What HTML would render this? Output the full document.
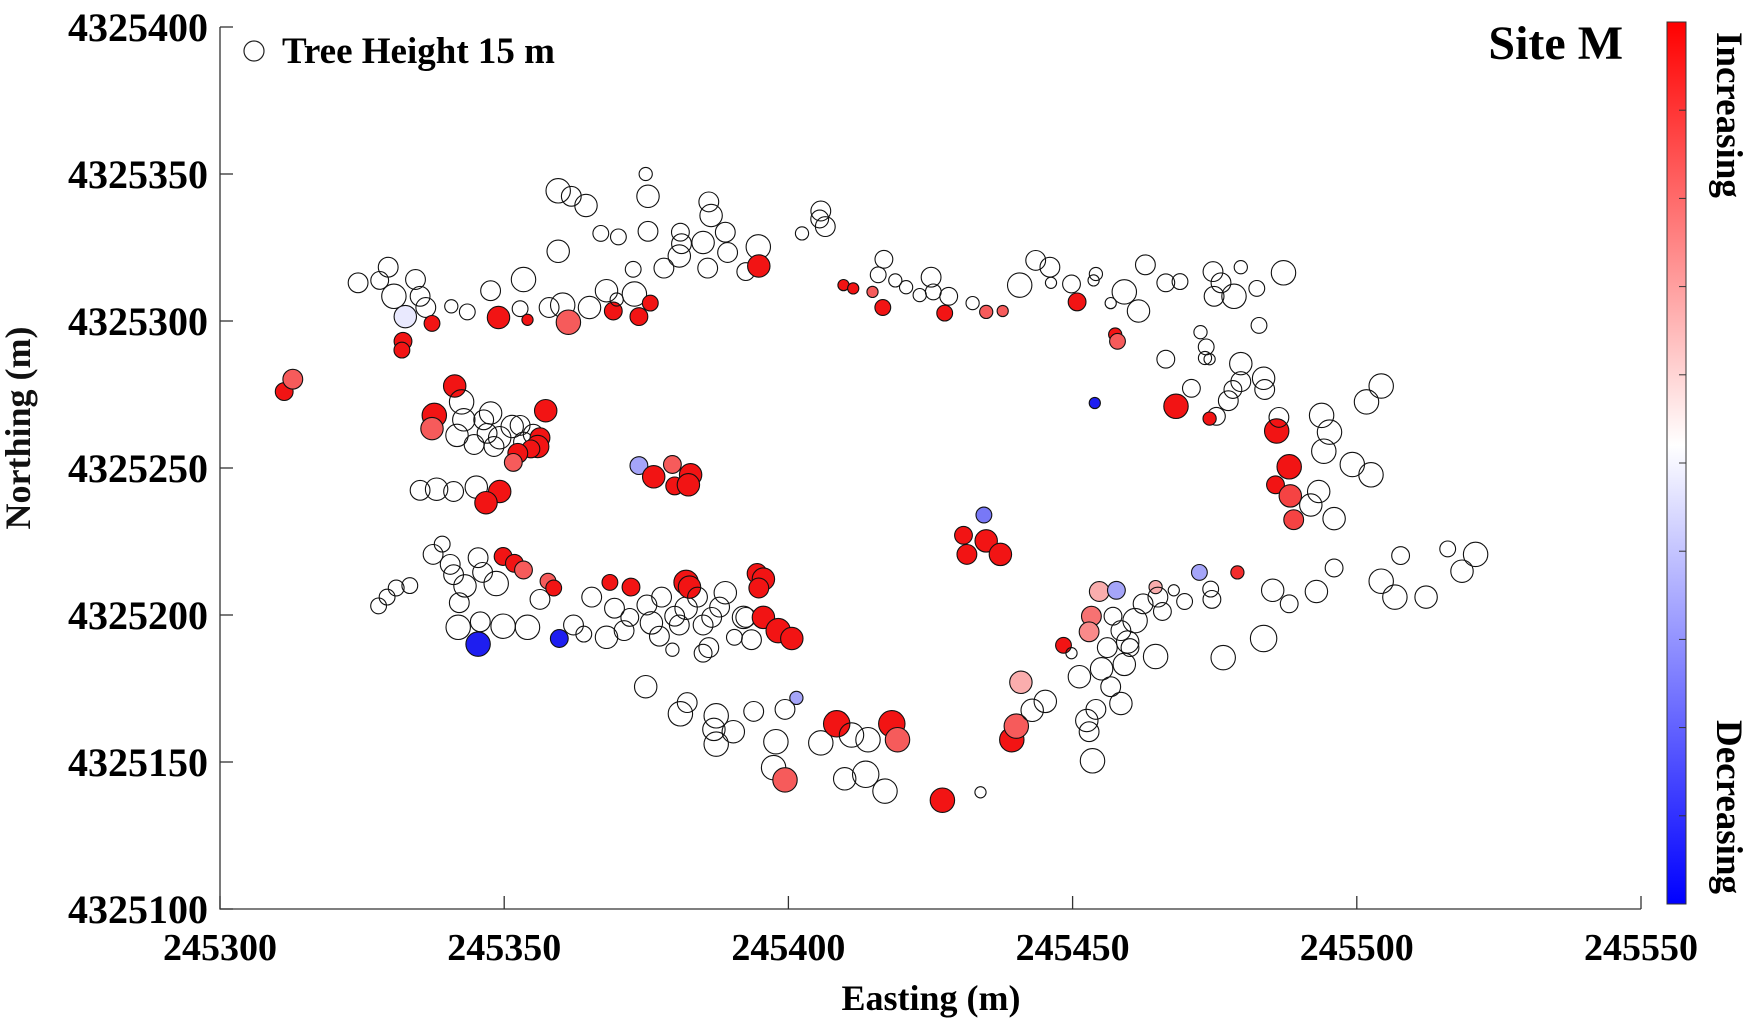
<!DOCTYPE html>
<html><head><meta charset="utf-8"><style>
html,body{margin:0;padding:0;background:#fff;}
svg{display:block;font-family:"Liberation Serif",serif;font-weight:bold;}
</style></head><body>
<svg id="chart" width="1763" height="1036" viewBox="0 0 1763 1036">
  <g id="axes"></g>
  <g id="marks"></g>
  <g id="legend">
    <circle cx="254" cy="51" r="10" fill="none" stroke="#222" stroke-width="1.2"/>
    <text x="282" y="63" font-size="37">Tree Height 15 m</text>
  </g>
  <text x="1623" y="59" font-size="48" text-anchor="end">Site M</text>
  <text transform="translate(30,428) rotate(-90)" font-size="36" text-anchor="middle" fill="#111">Northing (m)</text>
  <text x="931" y="1010" font-size="36" text-anchor="middle">Easting (m)</text>
  <defs>
    <linearGradient id="cbgrad" x1="0" y1="0" x2="0" y2="1">
      <stop offset="0" stop-color="#ff0000"/>
      <stop offset="0.48" stop-color="#ffffff"/>
      <stop offset="1" stop-color="#0000ff"/>
    </linearGradient>
  </defs>
  <g id="colorbar">
    <rect x="1667" y="22" width="19" height="882" fill="url(#cbgrad)" stroke="#333" stroke-width="1"/>
    <g id="cbticks"></g>
    <text transform="translate(1717,32) rotate(90)" font-size="37">Increasing</text>
    <text transform="translate(1717,720) rotate(90)" font-size="37">Decreasing</text>
  </g>
</svg>
<script>
// easting offset from 245300 (m)
const eastM = [
24.3,29.6,28.1,30.6,34.4,35.2,36.2,32.6,37.3,32.2,32.0,40.7,43.5,47.6,49.0,53.4,52.8,54.1,57.9,60.3,61.3,65.0,68.0,69.2,69.8,72.9,73.7,75.7,72.7,75.3,67.0,70.1,74.9,75.3,59.5,61.8,64.4,59.5,78.1,80.8,81.2,81.0,85.0,85.8,86.0,86.4,88.9,89.3,94.7,92.5,94.8,102.4,105.7,106.5,105.5,
109.7,111.4,114.8,115.8,116.8,116.6,118.8,120.7,123.1,125.1,125.5,128.2,127.5,132.4,134.8,137.7,140.7,143.5,146.0,146.2,150.8,149.8,154.1,153.7,156.7,159.1,161.6,162.8,166.4,168.9,174.7,174.9,176.1,178.4,179.6,182.4,187.1,182.8,157.5,157.9,172.5,173.5,173.3,174.1,166.4,170.9,179.6,179.6,177.4,178.2,175.3,183.6,183.8,168.2,174.1,153.9,
11.3,12.8,41.3,37.7,37.3,42.5,42.9,41.7,46.4,47.6,47.0,48.2,49.2,51.4,52.8,53.4,55.1,57.3,56.3,55.9,54.7,52.4,51.6,44.7,35.2,38.1,41.1,45.1,49.2,46.8,73.7,76.3,79.6,82.8,80.0,82.4,
134.4,130.8,131.4,134.8,137.3,
37.5,39.1,40.5,41.1,45.4,46.2,43.1,48.6,49.8,51.8,53.4,57.7,58.7,56.3,27.9,29.4,31.0,33.4,42.1,41.9,45.8,49.8,54.1,45.4,59.7,62.2,64.0,65.4,68.6,72.3,69.4,68.0,71.1,72.1,75.1,75.9,77.3,77.7,80.0,80.8,79.6,82.0,82.0,82.6,85.0,84.0,87.9,86.5,88.9,90.5,92.1,93.5,92.5,94.5,95.6,94.8,95.6,98.2,100.6,85.0,86.0,74.9,
101.4,99.4,81.0,82.2,87.3,86.9,87.3,90.3,93.9,97.8,97.4,99.4,105.7,108.5,109.9,111.1,114.0,113.6,117.0,118.2,119.2,127.1,133.8,139.3,140.1,140.9,142.9,145.2,148.4,149.8,151.2,154.7,157.7,153.3,152.9,152.5,152.9,153.5,154.1,155.1,156.7,158.5,159.1,156.1,158.5,157.1,159.7,161.0,162.4,164.6,165.0,165.8,164.6,167.8,169.7,172.3,174.3,174.5,176.5,179.0,183.6,185.2,188.1,192.9,196.0,204.3,206.7,207.7,212.2,216.0,218.5,220.9,160.1,
185.9,186.3,188.1,185.7,188.3,188.9,191.9,193.3,196.0,193.8,195.2,194.2,199.2,202.5,201.7,204.3
];
// northing offset from 4325100 (m)
const northM = [
213.0,218.3,213.8,208.4,214.1,208.4,204.6,201.5,199.2,193.1,190.1,205.0,203.1,210.3,201.2,214.1,204.2,200.4,204.6,205.4,199.6,204.6,210.3,203.4,207.3,209.2,201.5,206.1,217.6,230.5,229.8,228.6,250.0,242.4,244.3,242.4,239.3,223.7,218.0,222.1,226.3,230.2,226.7,218.0,240.5,235.9,230.2,223.3,225.2,216.8,218.7,229.8,237.4,232.1,234.7,
212.2,211.1,209.9,215.7,221.0,204.6,213.8,211.5,208.8,214.9,209.9,208.4,202.7,206.1,203.1,203.4,212.2,220.6,218.3,213.0,206.5,212.6,216.0,213.8,206.1,209.9,203.4,219.1,213.0,213.4,216.8,208.4,213.0,208.4,218.3,211.1,216.4,198.5,195.4,193.1,196.2,191.2,187.4,187.0,187.0,177.1,185.5,179.4,172.9,176.7,167.6,180.5,176.7,171.0,166.8,172.1,
176.0,180.2,177.9,167.9,163.4,172.5,166.4,161.1,166.4,168.7,161.8,157.3,160.3,164.1,164.5,158.8,161.5,169.5,160.3,157.3,156.5,155.0,151.9,158.0,142.4,142.8,142.0,143.5,142.0,138.2,150.8,147.0,151.2,147.7,143.9,144.3,
134.0,127.1,120.6,125.2,120.6,
120.6,124.1,117.2,113.7,119.5,114.5,109.9,110.7,119.9,117.6,115.3,111.5,109.2,105.3,103.1,106.1,109.2,110.0,104.2,95.8,97.7,96.2,95.8,90.1,92.0,96.6,93.5,106.1,111.1,109.5,102.3,92.4,94.7,99.2,103.4,97.3,92.8,106.1,99.6,96.6,88.2,102.3,111.1,109.5,96.6,106.1,102.7,99.2,107.6,92.4,99.2,91.6,99.2,114.1,112.2,109.2,99.2,94.7,92.0,87.0,88.9,75.6,
71.8,67.9,66.4,70.2,65.7,61.1,56.1,60.3,67.2,56.9,48.1,43.9,56.5,63.0,44.3,59.2,57.6,45.8,40.1,63.0,57.6,37.0,39.7,57.6,62.2,77.1,67.6,70.6,89.7,87.0,79.0,108.0,108.4,99.6,94.3,64.1,60.3,50.4,67.9,81.7,75.6,69.9,83.2,88.9,94.7,99.6,90.8,98.1,103.8,109.5,106.1,101.2,85.9,108.4,104.6,114.5,108.8,105.3,85.5,114.5,92.0,108.4,103.8,108.0,116.0,111.5,106.1,120.2,106.1,122.5,114.9,120.6,88.9,
162.6,167.2,150.4,144.3,140.5,132.4,137.4,142.0,132.8,167.9,162.2,155.7,151.2,147.7,172.5,177.9
];
// tree height (m)
const heightM = [
15,15,13.5,18.5,15,15,15,17,12,13.5,12,10,12,15,17,18.5,12,8.5,15,18.5,18.5,17,17,13.5,10,18.5,13.5,12,12,15,12,12,10,17,18.5,15,17,17,15,17,15,13.5,17,15,15,17,15,15,18.5,13.5,17,10,15,15,13.5,
8.5,8.5,8.5,12,13.5,12,10,10,10,15,12,13.5,12,10,10,8.5,18.5,15,15,8.5,13.5,13.5,10,8.5,8.5,18.5,17,15,13.5,12,15,15,15,18.5,10,12,18.5,12,10,12,10,12,10,8.5,13.5,13.5,17,15,15,13.5,13.5,17,15,18.5,10,8.5,
13.5,15,17,18.5,17,18.5,17,17,15,17,15,15,17,17,15,15,15,17,15,17,13.5,15,13.5,15,15,17,15,17,17,17,13.5,17,13.5,17,13.5,17,
12,13.5,15,17,17,
15,12,15,15,15,15,17,18.5,13.5,13.5,13.5,12,12,15,12,12,12,12,15,18.5,15,18.5,18.5,18.5,13.5,15,12,15,12,13.5,15,17,15,13.5,15,17,15,15,15,15,10,17,18.5,17,15,15,15,15,17,12,17,15,15,15,17,15,17,18.5,17,13.5,15,17,
10,15,18.5,15,18.5,17,18.5,17,15,18.5,18.5,18.5,18.5,20,17,18.5,18.5,20,18.5,20,18.5,18.5,8.5,18.5,18.5,17,17,17,12,8.5,17,15,13.5,15,15,17,15,18.5,15,17,15,17,17,15,15,13.5,17,18.5,15,10,15,13.5,18.5,8.5,12,12,12,13.5,18.5,10,20,17,13.5,17,13.5,18.5,18.5,13.5,17,12,17,18.5,13.5,
18.5,15,18.5,13.5,17,15,17,17,17,18.5,18.5,18.5,18.5,18.5,18.5,18.5
];
// relative change (-1 decreasing .. 1 increasing, 0 = no change / open)
const changeVal = [
0,0,0,0,0,0,0,-0.1,1,1,1,0,0,0,1,0,0,1,0,0,0.7,0,0,1,0,0,1,1,0,0,0,0,0,0,0,0,0,0,0,0,0,0,0,0,0,0,0,0,0,0,1,0,0,0,0,
1,1,0.7,0,0,1,0,0,0,0,0,0,1,0,0.7,0.7,0,0,0,0,1,0,0,0,0,0,0,0,0,0,0,0,0,0,0,0,0,0,1,0.7,0,0,0,0,0,0,0,0,0,0,0,0,0,1,1,-1,
1,0.7,1,1,0.7,0,0,0,0,0,0,0,0,0,0,0,0,1,1,1,1,1,0.7,0,0,0,0,0,1,1,-0.4,1,0.7,1,1,1,
-0.6,1,1,1,1,
0,0,0,0,0,0,0,0,1,1,0.7,0.7,1,0,0,0,0,0,0,0,0,0,0,-1,-1,0,0,0,1,1,0,0,0,0,0,0,0,0,0,0,0,0,1,1,0,0,0,0,0,0,0,0,0,1,1,1,1,1,1,0,0,0,
-0.4,0,0,0,0,0,0,0,0,0,0,0.7,0,1,0,0,0,0,0,1,0.7,1,0,1,0.7,0.35,0,0,1,0,0,0.35,-0.4,0.6,0.5,0,0,0,0,0,0,0,0,0,0,0,0,0,0,0.35,0,0,0,0,0,-0.4,0,0,0,0.9,0,0,0,0,0,0,0,0,0,0,0,0,0,
1,0,1,1,0.8,0.8,0,0,0,0,0,0,0,0,0,0
];
const xTicks = [245300,245350,245400,245450,245500,245550];
const yTicks = [4325100,4325150,4325200,4325250,4325300,4325350,4325400];
const E0 = 245300, N0 = 4325100;

const NS = 'http://www.w3.org/2000/svg';
const L = 220, R = 1641, T = 27, B = 909;
const xMin = 245300, xMax = 245550, yMin = 4325100, yMax = 4325400;
function xScale(v){ return L + (v - xMin) / (xMax - xMin) * (R - L); }
function yScale(v){ return B - (v - yMin) / (yMax - yMin) * (B - T); }
function rScale(h){ return h * 0.66; }
function colorOf(v){
  if (v > 0) { const g = Math.round(255 - 235*v); return 'rgb(' + Math.round(255-13*v) + ',' + g + ',' + g + ')'; }
  const a = -v; const g = Math.round(255 - 225*a); return 'rgb(' + g + ',' + g + ',' + Math.round(255-15*a) + ')';
}
function mk(tag, attrs, parent){
  const el = document.createElementNS(NS, tag);
  for (const k in attrs) el.setAttribute(k, attrs[k]);
  parent.appendChild(el); return el;
}
const axes = document.getElementById('axes');
const frame = mk('path', {d:'M'+L+' '+T+' V'+B+' H'+R, fill:'none', stroke:'#333', 'stroke-width':1.3}, axes);


xTicks.forEach(function(t){
  const x = xScale(t);
  const tk = mk('line', {x1:x, x2:x, y1:B, y2:B-13, stroke:'#333', 'stroke-width':1.3}, axes);
  
  
  const lb = mk('text', {x:x, y:960, 'font-size':38, 'text-anchor':'middle'}, axes);
  lb.textContent = t;
  
  
});
yTicks.forEach(function(t){
  const y = yScale(t);
  const tk = mk('line', {x1:L, x2:L+13, y1:y, y2:y, stroke:'#333', 'stroke-width':1.3}, axes);
  
  
  const lb = mk('text', {x:208, y:y+14, 'font-size':40, 'text-anchor':'end'}, axes);
  lb.textContent = t;
  
  
});
const marks = document.getElementById('marks');
for (let i = 0; i < eastM.length; i++) {
  const v = changeVal[i];
  const c = mk('circle', {
    cx: xScale(E0 + eastM[i]).toFixed(1),
    cy: yScale(N0 + northM[i]).toFixed(1),
    r: rScale(heightM[i]).toFixed(1),
    fill: v === 0 ? 'none' : colorOf(v),
    stroke: '#111', 'stroke-width': 1.1
  }, marks);
  
  
}
const cbt = document.getElementById('cbticks');
for (let k = 1; k <= 9; k++) {
  const y = 22 + 88.2*k;
  const t = mk('line', {x1:1686, x2:1679, y1:y, y2:y, stroke:'#333', 'stroke-width':1}, cbt);
  
  
}
</script>
</body></html>
